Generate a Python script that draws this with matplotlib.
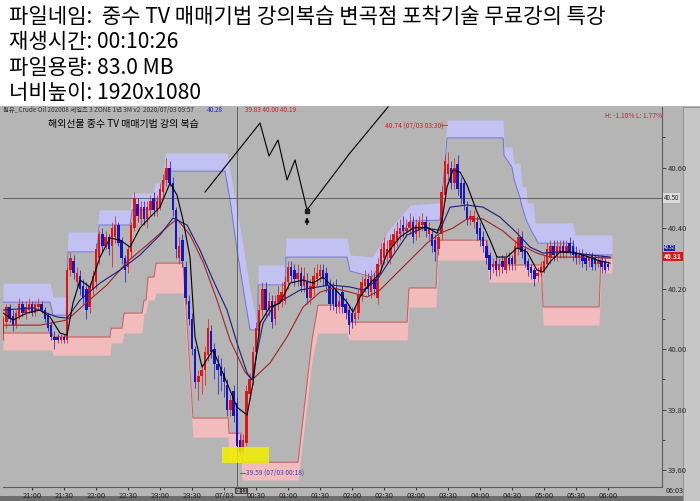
import matplotlib
matplotlib.use("Agg")
import matplotlib.pyplot as plt
from matplotlib.patches import Rectangle
import numpy as np

plt.rcParams['font.family'] = ['Noto Sans CJK KR', 'DejaVu Sans']

# 헤더 텍스트
header_lines = [
    "파일네임:  중수 TV 매매기법 강의복습 변곡점 포착기술 무료강의 특강",
    "재생시간: 00:10:26",
    "파일용량: 83.0 MB",
    "너비높이: 1920x1080",
]

# 3분봉, 시간 = 20:00 이후 분 (첫 봉 20:33)
first_t = 33
step = 3
opens = [
    40.05, 40.09, 40.14, 40.11, 40.08, 40.11, 40.15, 40.12, 40.13, 40.15,
    40.12, 40.14, 40.15, 40.13, 40.11, 40.08, 40.04, 40.04, 40.03, 40.04,
    40.03, 40.26, 40.29, 40.22, 40.24, 40.21, 40.20, 40.14, 40.20, 40.22,
    40.30, 40.38, 40.34, 40.37, 40.34, 40.37, 40.41, 40.36, 40.30, 40.27,
    40.32, 40.40, 40.48, 40.43, 40.47, 40.43, 40.46, 40.50, 40.46, 40.47,
    40.52, 40.56, 40.60, 40.55, 40.46, 40.30, 40.36, 40.27, 40.16, 40.10,
    40.00, 39.89, 39.91, 39.93, 39.98, 40.06, 40.00, 39.95, 39.94, 39.92,
    39.88, 39.80, 39.86, 39.82, 39.70, 39.66, 39.69, 39.85, 39.90, 39.99,
    40.06, 40.13, 40.20, 40.13, 40.16, 40.10, 40.15, 40.16, 40.16, 40.22,
    40.27, 40.26, 40.23, 40.25, 40.21, 40.22, 40.17, 40.20, 40.23, 40.24,
    40.26, 40.25, 40.21, 40.20, 40.20, 40.14, 40.19, 40.15, 40.13, 40.12,
    40.10, 40.12, 40.18, 40.21, 40.23, 40.19, 40.23, 40.17, 40.28, 40.30,
    40.31, 40.30, 40.34, 40.36, 40.38, 40.41, 40.39, 40.40, 40.42, 40.38,
    40.39, 40.41, 40.42, 40.38, 40.38, 40.36, 40.33, 40.38, 40.51, 40.58,
    40.60, 40.55, 40.61, 40.55, 40.55, 40.47, 40.43, 40.42, 40.42, 40.40,
    40.37, 40.34, 40.31, 40.27, 40.29, 40.26, 40.29, 40.26, 40.30, 40.30,
    40.28, 40.33, 40.37, 40.33, 40.29, 40.27, 40.26, 40.24, 40.25, 40.26,
    40.28, 40.30, 40.34, 40.31, 40.32, 40.34, 40.32, 40.35, 40.34, 40.32,
    40.30, 40.31, 40.30, 40.29, 40.31, 40.30, 40.28, 40.29, 40.29, 40.28,
]
closes = [
    40.10, 40.14, 40.10, 40.08, 40.12, 40.15, 40.12, 40.14, 40.15, 40.12,
    40.15, 40.15, 40.13, 40.10, 40.07, 40.04, 40.03, 40.03, 40.04, 40.03,
    40.26, 40.30, 40.25, 40.25, 40.20, 40.17, 40.13, 40.21, 40.24, 40.33,
    40.38, 40.34, 40.37, 40.33, 40.40, 40.41, 40.35, 40.30, 40.26, 40.33,
    40.41, 40.50, 40.44, 40.47, 40.43, 40.47, 40.49, 40.46, 40.49, 40.53,
    40.56, 40.60, 40.55, 40.46, 40.33, 40.34, 40.29, 40.17, 40.10, 40.00,
    39.89, 39.91, 39.93, 39.99, 40.07, 39.99, 39.95, 39.93, 39.91, 39.89,
    39.80, 39.83, 39.78, 39.68, 39.66, 39.70, 39.86, 39.90, 39.99, 40.07,
    40.13, 40.20, 40.13, 40.16, 40.09, 40.16, 40.18, 40.19, 40.22, 40.27,
    40.24, 40.23, 40.25, 40.21, 40.24, 40.17, 40.21, 40.24, 40.25, 40.26,
    40.23, 40.21, 40.15, 40.15, 40.14, 40.16, 40.14, 40.12, 40.08, 40.09,
    40.12, 40.18, 40.22, 40.23, 40.20, 40.24, 40.20, 40.28, 40.33, 40.35,
    40.33, 40.36, 40.38, 40.39, 40.40, 40.39, 40.40, 40.42, 40.37, 40.41,
    40.42, 40.42, 40.39, 40.40, 40.34, 40.32, 40.37, 40.52, 40.62, 40.61,
    40.55, 40.60, 40.53, 40.50, 40.48, 40.43, 40.44, 40.44, 40.38, 40.36,
    40.34, 40.30, 40.26, 40.28, 40.26, 40.28, 40.27, 40.30, 40.28, 40.28,
    40.34, 40.37, 40.32, 40.28, 40.26, 40.25, 40.23, 40.25, 40.27, 40.29,
    40.33, 40.34, 40.31, 40.34, 40.34, 40.32, 40.34, 40.32, 40.31, 40.30,
    40.31, 40.29, 40.28, 40.30, 40.27, 40.28, 40.29, 40.27, 40.26, 40.27,
]
highs = [
    40.11, 40.15, 40.15, 40.13, 40.13, 40.17, 40.16, 40.16, 40.17, 40.16,
    40.16, 40.17, 40.16, 40.14, 40.12, 40.09, 40.06, 40.05, 40.05, 40.05,
    40.27, 40.32, 40.31, 40.27, 40.26, 40.23, 40.22, 40.22, 40.26, 40.35,
    40.39, 40.40, 40.39, 40.38, 40.42, 40.44, 40.42, 40.37, 40.31, 40.34,
    40.42, 40.52, 40.50, 40.49, 40.49, 40.49, 40.51, 40.52, 40.51, 40.55,
    40.58, 40.63, 40.62, 40.57, 40.47, 40.37, 40.38, 40.29, 40.18, 40.12,
    40.01, 39.93, 39.95, 40.01, 40.10, 40.08, 40.02, 39.98, 39.97, 39.94,
    39.90, 39.85, 39.88, 39.84, 39.72, 39.72, 39.88, 39.92, 40.01, 40.09,
    40.15, 40.22, 40.22, 40.19, 40.18, 40.18, 40.21, 40.22, 40.24, 40.29,
    40.29, 40.28, 40.28, 40.27, 40.27, 40.25, 40.23, 40.27, 40.28, 40.28,
    40.28, 40.27, 40.23, 40.22, 40.23, 40.18, 40.21, 40.17, 40.15, 40.14,
    40.14, 40.20, 40.24, 40.26, 40.25, 40.26, 40.25, 40.30, 40.35, 40.37,
    40.36, 40.38, 40.40, 40.42, 40.43, 40.44, 40.43, 40.45, 40.44, 40.43,
    40.44, 40.45, 40.44, 40.42, 40.40, 40.38, 40.39, 40.54, 40.64, 40.65,
    40.62, 40.63, 40.64, 40.57, 40.56, 40.49, 40.46, 40.46, 40.44, 40.42,
    40.39, 40.36, 40.32, 40.30, 40.31, 40.30, 40.31, 40.32, 40.32, 40.31,
    40.36, 40.40, 40.39, 40.34, 40.30, 40.28, 40.27, 40.27, 40.29, 40.31,
    40.35, 40.36, 40.36, 40.36, 40.36, 40.36, 40.36, 40.37, 40.36, 40.34,
    40.33, 40.33, 40.32, 40.32, 40.32, 40.31, 40.31, 40.31, 40.30, 40.29,
]
lows = [
    40.03, 40.07, 40.09, 40.06, 40.07, 40.10, 40.11, 40.10, 40.12, 40.11,
    40.11, 40.13, 40.12, 40.09, 40.06, 40.03, 40.00, 40.02, 40.02, 40.02,
    40.02, 40.24, 40.23, 40.21, 40.18, 40.15, 40.10, 40.12, 40.18, 40.20,
    40.28, 40.32, 40.33, 40.31, 40.27, 40.35, 40.34, 40.28, 40.22, 40.25,
    40.30, 40.39, 40.42, 40.41, 40.41, 40.40, 40.44, 40.44, 40.44, 40.46,
    40.50, 40.54, 40.54, 40.44, 40.30, 40.28, 40.27, 40.15, 40.08, 39.98,
    39.87, 39.83, 39.85, 39.88, 39.96, 39.97, 39.90, 39.85, 39.86, 39.84,
    39.78, 39.78, 39.76, 39.66, 39.65, 39.65, 39.68, 39.83, 39.88, 39.97,
    40.04, 40.11, 40.11, 40.11, 40.07, 40.08, 40.13, 40.14, 40.15, 40.20,
    40.22, 40.21, 40.21, 40.19, 40.19, 40.15, 40.15, 40.18, 40.21, 40.22,
    40.21, 40.19, 40.13, 40.13, 40.12, 40.12, 40.12, 40.10, 40.05, 40.07,
    40.08, 40.10, 40.16, 40.19, 40.18, 40.17, 40.18, 40.15, 40.26, 40.28,
    40.28, 40.28, 40.32, 40.34, 40.36, 40.37, 40.37, 40.38, 40.35, 40.36,
    40.37, 40.39, 40.37, 40.36, 40.32, 40.29, 40.31, 40.36, 40.49, 40.56,
    40.53, 40.53, 40.51, 40.48, 40.46, 40.41, 40.41, 40.40, 40.36, 40.34,
    40.32, 40.28, 40.23, 40.25, 40.24, 40.24, 40.25, 40.25, 40.26, 40.26,
    40.26, 40.31, 40.30, 40.27, 40.24, 40.23, 40.21, 40.22, 40.24, 40.25,
    40.27, 40.28, 40.29, 40.29, 40.30, 40.30, 40.30, 40.31, 40.29, 40.28,
    40.28, 40.27, 40.26, 40.27, 40.26, 40.26, 40.27, 40.25, 40.25, 40.26,
]

# 이동평균선
black_t = [32.8, 42.2, 55.3, 67.5, 76.9, 86.25, 92.8, 98.4, 105.0, 114.4,
           123.75, 133.1, 142.5, 151.9, 161.25, 170.6, 180.0, 189.4, 195.9, 201.6,
           208.1, 212.8, 219.4, 229.7, 242.8, 252.2, 261.6, 267.2, 273.75, 283.1,
           292.5, 301.9, 314.1, 323.4, 332.8, 342.2, 355.3, 360.9, 367.5, 376.9,
           386.25, 392.8, 405.0, 417.2, 430.3, 439.7, 444.4, 449.1, 454.7, 461.25,
           467.8, 477.2, 489.4, 495.9, 505.3, 514.7, 524.1, 533.4, 539.1, 545.6,
           555.0, 564.4, 576.6, 589.7, 601.9]
black_p = [40.119, 40.096, 40.119, 40.129, 40.106, 40.053, 40.046, 40.152, 40.228, 40.205,
           40.304, 40.367, 40.360, 40.337, 40.400, 40.436, 40.469, 40.549, 40.509, 40.426,
           40.304, 40.040, 39.940, 39.997, 39.888, 39.808, 39.782, 39.888, 40.086, 40.139,
           40.152, 40.218, 40.228, 40.218, 40.238, 40.205, 40.155, 40.122, 40.172, 40.218,
           40.251, 40.317, 40.370, 40.400, 40.403, 40.383, 40.426, 40.536, 40.592, 40.585,
           40.542, 40.453, 40.360, 40.304, 40.304, 40.334, 40.321, 40.261, 40.255, 40.288,
           40.321, 40.321, 40.311, 40.294, 40.284]
navy_t = [32.8, 60.9, 83.4, 92.8, 105.0, 123.75, 142.5, 161.25, 180.0, 192.2,
          205.3, 217.5, 229.7, 242.8, 252.2, 261.6, 266.25, 270.9, 276.6, 285.9,
          295.3, 311.25, 339.4, 358.1, 370.3, 383.4, 395.6, 411.6, 426.6, 442.5,
          451.9, 467.8, 482.8, 498.75, 514.7, 526.9, 539.1, 552.2, 570.9, 583.1, 601.9]
navy_p = [40.129, 40.136, 40.106, 40.102, 40.162, 40.218, 40.261, 40.311, 40.377, 40.433,
          40.410, 40.327, 40.228, 40.129, 40.020, 39.921, 39.898, 39.987, 40.086, 40.139,
          40.162, 40.195, 40.212, 40.205, 40.195, 40.228, 40.294, 40.377, 40.400, 40.393,
          40.469, 40.476, 40.469, 40.436, 40.383, 40.337, 40.317, 40.321, 40.317, 40.311, 40.304]
red_t = [32.8, 67.5, 92.8, 111.6, 130.3, 149.1, 167.8, 186.6, 195.9, 208.1,
         220.3, 233.4, 245.6, 259.7, 266.25, 283.1, 299.1, 314.1, 330.0, 342.2,
         358.1, 374.1, 386.25, 398.4, 414.4, 430.3, 442.5, 454.7, 467.8, 482.8,
         501.6, 514.7, 533.4, 545.6, 576.6, 601.9]
red_p = [40.079, 40.079, 40.096, 40.155, 40.212, 40.288, 40.344, 40.403, 40.430, 40.377,
         40.288, 40.162, 40.030, 39.924, 39.898, 39.954, 40.040, 40.139, 40.188, 40.202,
         40.188, 40.172, 40.195, 40.238, 40.294, 40.350, 40.383, 40.400, 40.430, 40.430,
         40.390, 40.350, 40.317, 40.304, 40.304, 40.301]

# 상단 밴드 (보라)
ub_t = [32.8, 76.9, 79.7, 92.0, 93.7, 120.9, 122.8, 151.9, 153.75, 173.4,
        175.3, 182.8, 184.7, 240.9, 242.8, 245.6, 250.3, 252.2, 256.9, 259.7,
        264.4, 269.1, 271.5, 272.0, 297.2, 298.1, 355.3, 358.1, 378.75, 386.25,
        395.6, 405.0, 414.4, 442.5, 449.1, 501.6, 502.5, 510.0, 512.0, 517.5,
        519.4, 523.0, 524.1, 529.7, 531.6, 534.4, 567.2, 569.1, 603.75]
ub_top = [40.218, 40.218, 40.172, 40.172, 40.387, 40.387, 40.460, 40.460, 40.516, 40.516,
          40.549, 40.549, 40.648, 40.648, 40.648, 40.590, 40.493, 40.455, 40.360, 40.298,
          40.195, 40.112, 40.068, 40.278, 40.278, 40.367, 40.367, 40.311, 40.304, 40.344,
          40.400, 40.436, 40.476, 40.483, 40.757, 40.757, 40.668, 40.668, 40.615, 40.615,
          40.536, 40.536, 40.483, 40.483, 40.417, 40.417, 40.417, 40.377, 40.377]
ub_bot = [40.155, 40.155, 40.112, 40.112, 40.321, 40.321, 40.410, 40.410, 40.460, 40.460,
          40.493, 40.493, 40.588, 40.588, 40.550, 40.493, 40.375, 40.327, 40.225, 40.162,
          40.063, 40.063, 40.063, 40.212, 40.212, 40.304, 40.304, 40.258, 40.238, 40.278,
          40.327, 40.377, 40.423, 40.426, 40.698, 40.698, 40.640, 40.600, 40.560, 40.500,
          40.470, 40.430, 40.420, 40.380, 40.370, 40.350, 40.350, 40.311, 40.311]

# 하단 밴드 (분홍)
lb_t = [32.8, 78.75, 79.7, 133.1, 134.1, 144.4, 146.25, 163.1, 165.0, 166.9,
        168.75, 174.4, 176.25, 201.6, 206.25, 210.9, 243.75, 244.7, 256.0, 256.9,
        309.4, 316.0, 322.5, 328.1, 355.3, 357.2, 411.6, 413.4, 438.75, 440.6,
        486.6, 488.4, 537.2, 539.1, 591.6, 593.4, 603.75]
lb_top = [40.053, 40.053, 40.040, 40.040, 40.069, 40.069, 40.119, 40.119, 40.162, 40.162,
          40.238, 40.238, 40.284, 40.284, 40.030, 39.772, 39.772, 39.722, 39.722, 39.626,
          39.626, 39.831, 40.030, 40.145, 40.145, 40.089, 40.089, 40.202, 40.202, 40.360,
          40.360, 40.278, 40.278, 40.139, 40.139, 40.301, 40.301]
lb_bot = [39.997, 39.997, 39.980, 39.980, 40.020, 40.020, 40.053, 40.053, 40.119, 40.119,
          40.162, 40.162, 40.185, 40.185, 39.944, 39.709, 39.709, 39.630, 39.630, 39.567,
          39.567, 39.765, 39.964, 40.053, 40.053, 40.030, 40.030, 40.139, 40.139, 40.294,
          40.294, 40.221, 40.221, 40.079, 40.079, 40.251, 40.251]

# 손으로 그린 지그재그
zz_t = [222.2, 273.75, 282.2, 290.6, 299.1, 306.6, 317.8, 358.1, 393.75]
zz_p = [40.519, 40.747, 40.638, 40.691, 40.559, 40.625, 40.460, 40.648, 40.800]

cross_t, cross_p = 252.2, 40.50
hl_t0, hl_t1, hl_p0, hl_p1 = 238.1, 282.2, 39.623, 39.676

tick_t = list(range(60, 601, 30))
tick_lab = ["21:00", "21:30", "22:00", "22:30", "23:00", "23:30", "07/03", "00:30",
            "01:00", "01:30", "02:00", "02:30", "03:00", "03:30", "04:00", "04:30",
            "05:00", "05:30", "06:00"]
price_ticks = [39.6, 39.8, 40.0, 40.2, 40.4, 40.6]

W, H = 700, 501
GRAY = '#b5b5b5'
fig = plt.figure(figsize=(7.0, 5.01), dpi=100)
fig.patch.set_facecolor('white')
fig.patches.append(Rectangle((0, 0), 1, 1 - 106 / H, transform=fig.transFigure,
                             facecolor=GRAY, edgecolor='none', zorder=-3))
fig.patches.append(Rectangle((683 / W, 0), 17 / W, 1 - 107 / H, transform=fig.transFigure,
                             facecolor='#c6c6c6', edgecolor='#8a8a8a', lw=0.6, zorder=-2))
fig.patches.append(Rectangle((0, 0), 683 / W, 5 / H, transform=fig.transFigure,
                             facecolor='#6e6e6e', edgecolor='none', zorder=-2))

for k, line in enumerate(header_lines):
    fig.text(9 / W, 1 - (17 + 25.3 * k) / H, line, fontsize=15.2, va='center', ha='left',
             color='black')

ax = fig.add_axes([3 / W, 14 / H, 659 / W, 380 / H])
ax.set_facecolor(GRAY)
ax.set_xlim(32.8, 650.6)
ax.set_ylim(39.544, 40.800)

# 밴드
ax.fill_between(ub_t, ub_bot, ub_top, color='#c2c2f2', lw=0, zorder=1)
ax.plot(ub_t, ub_bot, color='#7474d4', lw=0.7, zorder=2)
ax.fill_between(lb_t, lb_bot, lb_top, color='#f2bcbc', lw=0, zorder=1)
ax.plot(lb_t, lb_top, color='#d05a5a', lw=0.7, zorder=2)

# 십자선
ax.axhline(cross_p, color='#555555', lw=0.6, zorder=2)
ax.axvline(cross_t, color='#555555', lw=0.6, zorder=2)

# 캔들
o = np.array(opens)
c = np.array(closes)
t = first_t + step * np.arange(len(o))
up = c >= o
cols = np.where(up, '#e01414', '#1414c8')
ax.vlines(t, lows, highs, colors=cols, lw=0.5, zorder=3)
ax.bar(t, np.maximum(np.abs(c - o), 0.004), bottom=np.minimum(o, c), width=2.2,
       color=cols, lw=0, zorder=4)

# 이동평균
ax.plot(red_t, red_p, color='#a02424', lw=0.8, zorder=5)
ax.plot(navy_t, navy_p, color='#1c1c80', lw=0.8, zorder=5)
ax.plot(black_t, black_p, color='black', lw=0.8, zorder=6)

# 노란 강조 박스
ax.add_patch(Rectangle((hl_t0, hl_p0), hl_t1 - hl_t0, hl_p1 - hl_p0,
                       facecolor='#f0f000', edgecolor='none', alpha=0.85, zorder=7))

# 지그재그와 화살표
ax.plot(zz_t, zz_p, color='black', lw=0.8, zorder=8, clip_on=False)
ax.plot(zz_t[6], zz_p[6] - 0.005, marker='s', ms=2.2, color='#222222', zorder=8)
ax.annotate('', xy=(zz_t[6], 40.445), xytext=(zz_t[6], 40.402),
            arrowprops=dict(arrowstyle='-|>', color='black', lw=1.0, mutation_scale=6),
            zorder=8)

# 최고/최저 라벨
ax.plot([443.5, 449.0], [40.74, 40.74], color='#d02020', lw=0.6, zorder=8)
ax.text(390.9, 40.74, "40.74 (07/03 03:30)", fontsize=4.8, color='#d02020',
        va='center', ha='left', zorder=8)
ax.plot([255.0, 259.5], [39.59, 39.59], color='#4848c8', lw=0.6, zorder=8)
ax.text(260.6, 39.59, "39.59 (07/03 00:18)", fontsize=4.8, color='#4040c0',
        va='center', ha='left', zorder=8)

ax.text(0.069, 0.955, "해외선물 중수 TV 매매기법 강의 복습", transform=ax.transAxes,
        fontsize=7.2, color='black', va='center', ha='left', zorder=8)

# 축
for s in ['left', 'top']:
    ax.spines[s].set_visible(False)
for s in ['right', 'bottom']:
    ax.spines[s].set_color('#5a5a5a')
    ax.spines[s].set_linewidth(0.8)
ax.yaxis.tick_right()
ax.set_yticks(price_ticks)
ax.set_yticklabels(["%.2f" % v for v in price_ticks])
ax.set_yticks([39.7, 39.9, 40.1, 40.3, 40.5, 40.7], minor=True)
ax.tick_params(axis='y', which='both', labelsize=5.5, colors='#303030', length=3,
               width=0.6, pad=1)
ax.tick_params(axis='y', which='minor', length=2)
ax.set_xticks(tick_t)
ax.set_xticklabels(tick_lab)
ax.tick_params(axis='x', labelsize=5.5, colors='#202020', length=2, width=0.6, pad=1.5)

ytr = ax.get_yaxis_transform()
ax.text(1.003, cross_p, "40.50", transform=ytr, fontsize=4.5, color='#202020',
        va='center', ha='left', bbox=dict(facecolor='#dcdcdc', edgecolor='none', pad=0.6),
        clip_on=False, zorder=9)
ax.text(1.003, 40.305, "40.31", transform=ytr, fontsize=4.8, color='white',
        va='center', ha='left', fontweight='bold',
        bbox=dict(facecolor='#e01414', edgecolor='none', pad=0.6), clip_on=False, zorder=9)
ax.text(1.003, 40.335, "40.32", transform=ytr, fontsize=3.2, color='white',
        va='center', ha='left',
        bbox=dict(facecolor='#2020b0', edgecolor='none', pad=0.3), clip_on=False, zorder=9)
xtr = ax.get_xaxis_transform()
ax.text(cross_t + 4.0, -0.011, "00:12", transform=xtr, fontsize=3.4, color='white',
        va='center', ha='center', bbox=dict(facecolor='#404040', edgecolor='none', pad=0.3),
        clip_on=False, zorder=9)

# 상단 정보줄
fig.text(3 / W, 1 - 110 / H, "원유_Crude Oil 202008 세일즈 3 ZONE 1년 3M v2  2020/07/03 09:57",
         fontsize=4.6, color='#333333', va='center', ha='left')
fig.text(207 / W, 1 - 110 / H, "40.28", fontsize=4.6, color='#2828c8', va='center', ha='left')
fig.text(245 / W, 1 - 110 / H, "39.83 40.00 40.19", fontsize=4.6, color='#d02020',
         va='center', ha='left')
fig.text(605 / W, 1 - 116 / H, "H: -1.10% L: 1.77%", fontsize=4.8, color='#b02848',
         va='center', ha='left')
fig.text(666 / W, 1 - 491 / H, "06:03", fontsize=5.2, color='#202020', va='center', ha='left')

fig.savefig("out.png", dpi=100, facecolor='white')
